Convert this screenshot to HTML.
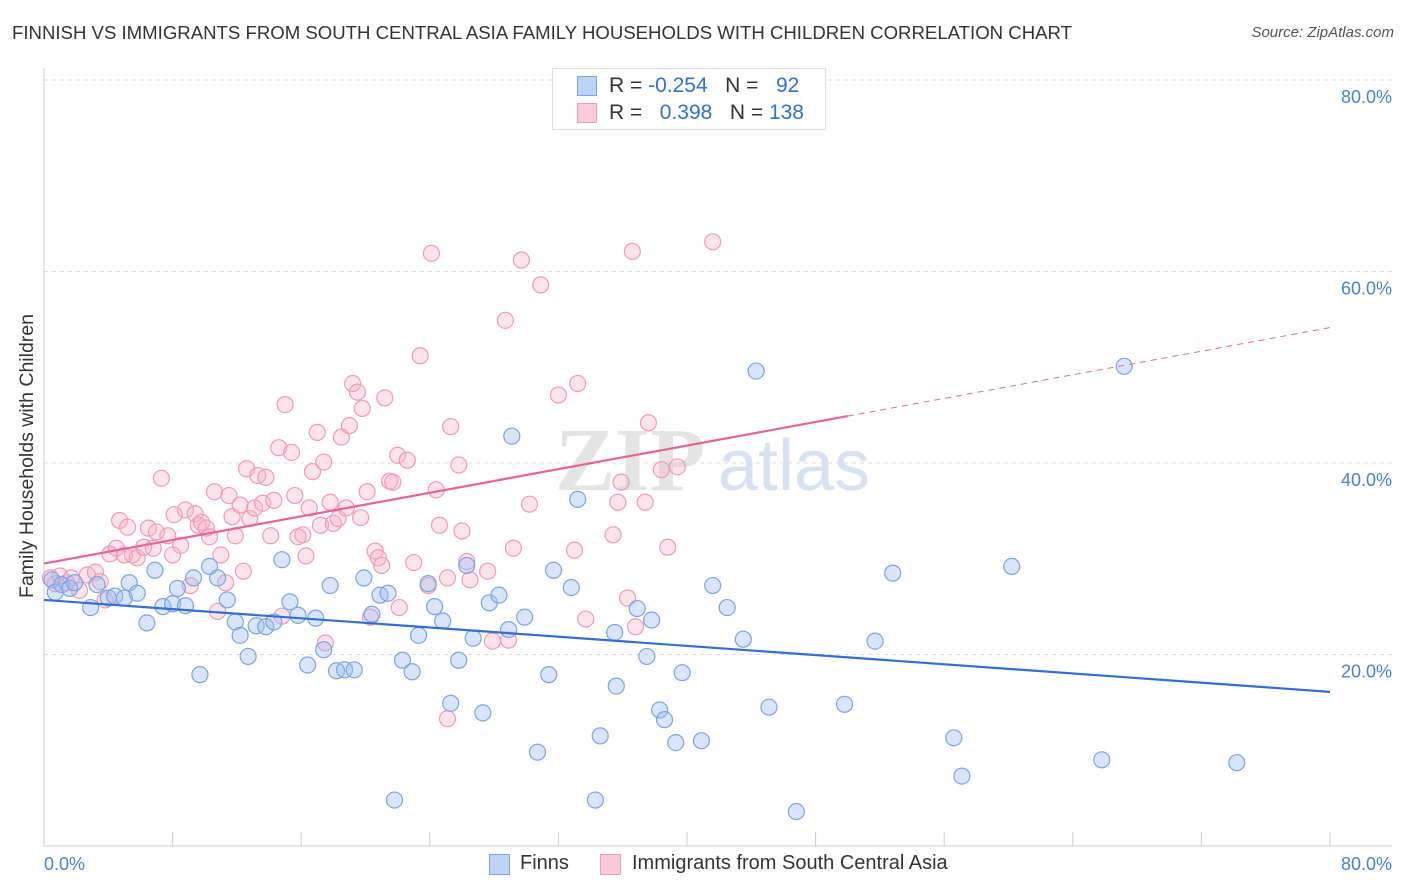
<!DOCTYPE html>
<html><head><meta charset="utf-8">
<style>
body{margin:0;background:#fff;font-family:"Liberation Sans",sans-serif;}
#wrap{position:relative;width:1406px;height:892px;overflow:hidden;}
.t{position:absolute;white-space:nowrap;}
</style></head>
<body>
<div id="wrap">
<div class="t" style="left:12px;top:22px;font-size:18.6px;color:#333;">FINNISH VS IMMIGRANTS FROM SOUTH CENTRAL ASIA FAMILY HOUSEHOLDS WITH CHILDREN CORRELATION CHART</div>
<div class="t" style="right:12px;top:24px;font-size:15px;color:#555;font-style:italic;">Source: ZipAtlas.com</div>
<svg id="svg" width="1406" height="892" style="position:absolute;left:0;top:0"></svg>
</div>
<script>
const blueX=[0.5,0.7,1.1,1.6,1.9,2.9,3.3,4.0,4.4,5.0,5.3,5.8,6.4,6.9,7.4,8.0,8.3,8.8,9.3,9.7,10.3,10.8,11.4,11.9,12.2,12.7,13.2,13.8,14.3,14.8,15.3,15.8,16.4,16.9,17.4,17.8,18.2,18.7,19.3,19.9,20.4,20.9,21.4,21.8,22.3,22.9,23.3,23.9,24.3,24.8,25.3,25.8,26.3,26.7,27.3,27.7,28.3,28.9,29.1,29.9,30.7,31.4,31.7,32.8,33.2,34.3,34.6,35.5,35.6,36.9,37.5,37.8,38.3,38.6,39.3,39.7,40.9,41.6,42.5,43.5,44.3,45.1,46.8,49.8,51.7,52.8,56.6,57.1,60.2,65.8,67.2,74.2];
const blueY=[27.8,26.5,27.3,26.9,27.5,24.9,27.3,25.9,26.1,25.9,27.5,26.4,23.3,28.8,25.0,25.3,26.9,25.1,28.0,17.9,29.2,28.0,25.7,23.4,22.0,19.8,23.0,22.9,23.4,29.9,25.5,24.1,18.9,23.8,20.5,27.2,18.3,18.4,18.4,28.0,24.2,26.2,26.4,4.8,19.4,18.2,22.0,27.4,25.0,23.5,14.9,19.4,29.3,21.7,13.9,25.4,26.2,22.6,42.8,23.9,9.8,17.9,28.8,27.0,36.2,4.8,11.5,22.3,16.7,24.8,19.8,23.6,14.2,13.2,10.8,18.1,11.0,27.2,24.9,21.6,49.6,14.5,3.6,14.8,21.4,28.5,11.3,7.3,29.2,9.0,50.1,8.7];
const pinkX=[0.4,0.7,1.0,1.4,1.7,2.2,2.7,3.2,3.5,3.8,4.1,4.5,4.7,5.0,5.2,5.5,5.8,6.2,6.5,6.8,7.0,7.3,7.7,8.0,8.1,8.5,8.8,9.1,9.4,9.6,9.8,10.1,10.3,10.6,10.8,11.0,11.3,11.5,11.7,11.9,12.2,12.4,12.6,12.8,13.1,13.3,13.6,13.8,14.1,14.3,14.6,14.8,15.0,15.4,15.6,15.8,16.1,16.3,16.5,16.7,17.0,17.2,17.4,17.5,17.8,18.0,18.3,18.5,18.8,19.0,19.2,19.5,19.7,19.8,20.1,20.3,20.6,20.8,21.0,21.2,21.5,21.7,22.0,22.1,22.6,23.0,23.4,23.9,24.1,24.4,24.6,25.1,25.1,25.3,25.8,26.0,26.3,26.5,27.6,27.9,28.7,28.9,29.2,29.7,30.2,30.9,32.0,33.0,33.2,33.7,35.4,35.7,35.9,36.3,36.6,36.8,37.4,37.6,38.4,38.8,39.4,41.6];
const pinkY=[28.0,27.4,28.2,27.5,28.0,26.7,28.3,28.6,27.6,25.7,30.5,31.1,34.0,30.4,33.3,30.4,30.1,31.2,33.2,31.1,32.8,38.4,32.4,30.4,34.6,31.4,35.1,27.2,34.7,33.5,33.8,33.2,32.3,37.0,24.5,30.4,27.5,36.6,34.4,32.4,35.6,28.7,39.4,34.2,35.3,38.7,35.8,38.5,32.4,36.1,41.6,24.0,46.1,41.1,36.6,32.3,32.5,30.3,35.3,39.1,43.2,33.5,40.1,21.2,35.9,33.7,34.2,42.7,35.3,43.9,48.3,47.4,34.3,45.7,37.0,23.9,30.8,30.1,29.3,46.8,38.1,38.0,40.8,24.9,40.3,29.6,51.2,27.2,61.9,37.2,33.5,13.3,28.0,43.8,39.8,32.9,29.7,27.8,28.7,21.4,54.9,21.5,31.1,61.2,35.7,58.6,47.1,30.9,48.3,23.7,32.5,35.9,38.0,25.9,62.1,22.9,35.9,44.2,39.3,31.2,39.6,63.1];
const blueTrend=[25.7,-0.12];
const pinkTrend=[29.5,0.308];
const pinkSolidEnd=50;
const yTicks=[20,40,60,80];
const yTickLabels=["20.0%","40.0%","60.0%","80.0%"];

const svg=document.getElementById('svg');
const NS='http://www.w3.org/2000/svg';
const X=v=>44+v/80*1286;
const Y=v=>846-v*9.575;
function mk(tag,attrs){const e=document.createElementNS(NS,tag);for(const k in attrs)e.setAttribute(k,attrs[k]);svg.appendChild(e);return e;}
yTicks.forEach((t,i)=>{
 const g=mk('line',{x1:44,x2:1392,y1:Y(t),y2:Y(t),stroke:'#ddd','stroke-dasharray':'4,4'});
 
 
 const tx=mk('text',{x:1392,y:Y(t)+23,'text-anchor':'end','font-size':18,fill:'#4a7fd8','font-family':'Liberation Sans, sans-serif'});
 tx.textContent=yTickLabels[i];
 
 
});
mk('line',{x1:44,x2:44,y1:68,y2:846,stroke:'#ccc'});
const ax=mk('line',{x1:44,x2:1392,y1:846,y2:846,stroke:'#ccc'});


for(let i=1;i<=10;i++){const tk=mk('line',{x1:X(i*8),x2:X(i*8),y1:832,y2:846,stroke:'#ccc'});
 
 }
const wm=mk('text',{x:555,y:490,'font-size':90,fill:'#e4e4e4','font-family':'Liberation Serif, serif','font-weight':'bold'});wm.textContent='ZIP';


const wm2=mk('text',{x:718,y:490,'font-size':72,fill:'#d6e2f4','font-family':'Liberation Sans, sans-serif'});wm2.textContent='atlas';


function dots(xs,ys,fill,stroke,name){xs.forEach((x,i)=>{const c=mk('circle',{cx:X(x),cy:Y(ys[i]),r:8,fill:fill,stroke:stroke,'stroke-width':1.2});
 
 });}
dots(pinkX,pinkY,'rgba(248,176,198,0.35)','#f09ab5','pink-point');
dots(blueX,blueY,'rgba(160,190,240,0.4)','#7aa3e5','blue-point');
const bl=mk('line',{x1:X(0),y1:Y(blueTrend[0]),x2:X(80),y2:Y(blueTrend[0]+blueTrend[1]*80),stroke:'#2f6fd6','stroke-width':2.2});


const pl=mk('line',{x1:X(0),y1:Y(pinkTrend[0]),x2:X(pinkSolidEnd),y2:Y(pinkTrend[0]+pinkTrend[1]*pinkSolidEnd),stroke:'#e8648f','stroke-width':2.2});


const pd=mk('line',{x1:X(pinkSolidEnd),y1:Y(pinkTrend[0]+pinkTrend[1]*pinkSolidEnd),x2:X(80),y2:Y(pinkTrend[0]+pinkTrend[1]*80),stroke:'#e8648f','stroke-width':1,'stroke-dasharray':'6,5'});


const xl0=mk('text',{x:44,y:870,'font-size':18,fill:'#4a7fd8','font-family':'Liberation Sans, sans-serif'});xl0.textContent='0.0%';


const xl1=mk('text',{x:1392,y:870,'text-anchor':'end','font-size':18,fill:'#4a7fd8','font-family':'Liberation Sans, sans-serif'});xl1.textContent='80.0%';


const yt=mk('text',{x:33,y:456,'text-anchor':'middle','font-size':19.5,fill:'#333',transform:'rotate(-90 33 456)','font-family':'Liberation Sans, sans-serif'});yt.textContent='Family Households with Children';


</script>
<div class="t" style="left:552px;top:68px;width:272px;height:60px;border:1px solid #ddd;background:#fff;">
 <div class="t" style="left:24px;top:7px;width:20px;height:20px;background:#bcd3f5;border:1px solid #7aa3e5;box-sizing:border-box;"></div>
 <div class="t" style="left:56px;top:5px;font-size:21px;color:#333;">R = <span style="color:#2f6fd6">-0.254</span>&nbsp;&nbsp;&nbsp;N = &nbsp;&nbsp;<span style="color:#2f6fd6">92</span></div>
 <div class="t" style="left:24px;top:34px;width:20px;height:20px;background:#fbc9d8;border:1px solid #f09ab5;box-sizing:border-box;"></div>
 <div class="t" style="left:56px;top:32px;font-size:21px;color:#333;">R = &nbsp;&nbsp;<span style="color:#2f6fd6">0.398</span>&nbsp;&nbsp;&nbsp;N = <span style="color:#2f6fd6">138</span></div>
</div>
<div class="t" style="left:489px;top:854px;width:21px;height:21px;background:#bcd3f5;border:1px solid #7aa3e5;box-sizing:border-box;"></div>
<div class="t" style="left:520px;top:852px;font-size:20px;color:#333;">Finns</div>
<div class="t" style="left:600px;top:854px;width:21px;height:21px;background:#fbc9d8;border:1px solid #f09ab5;box-sizing:border-box;"></div>
<div class="t" style="left:632px;top:852px;font-size:20px;color:#333;">Immigrants from South Central Asia</div>
</body></html>
